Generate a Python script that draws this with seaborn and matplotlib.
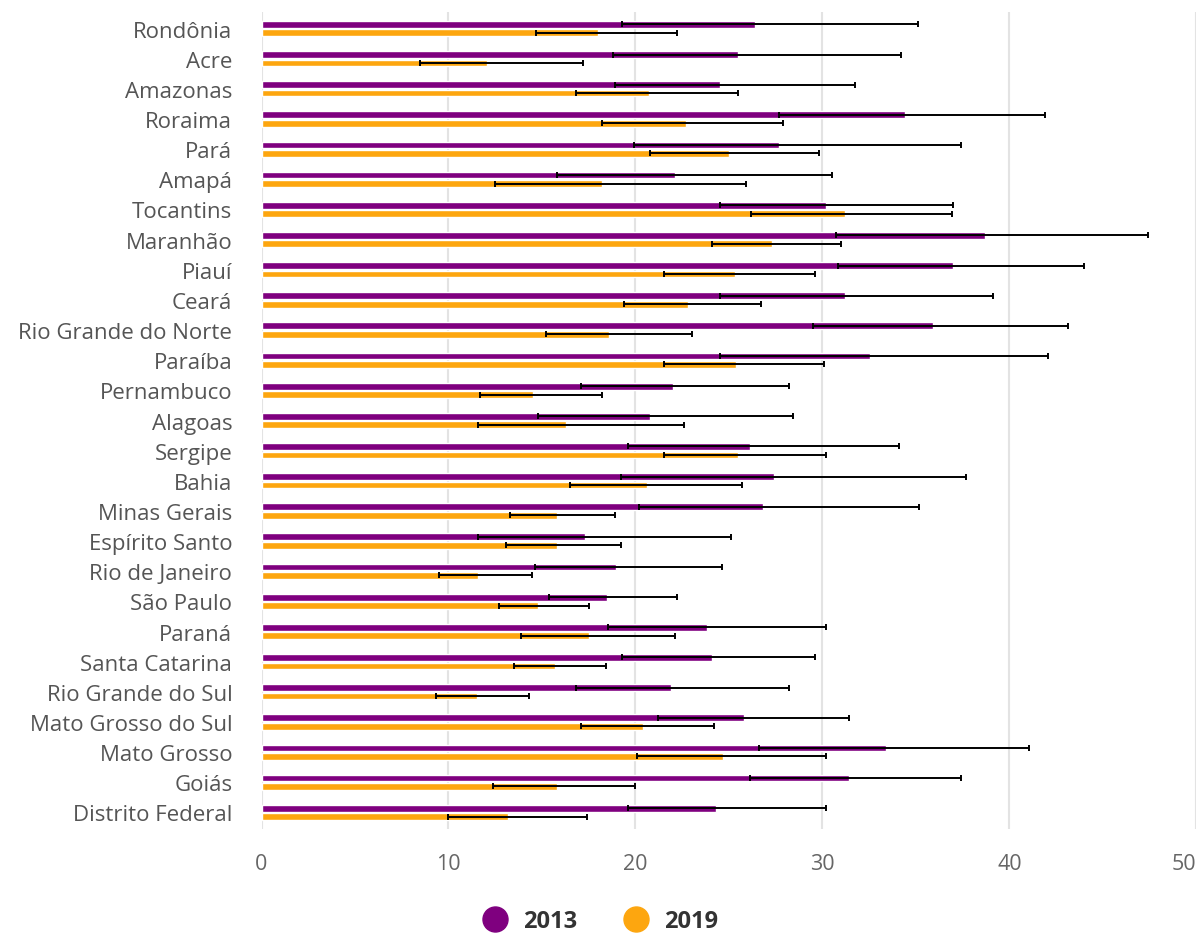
import numpy as np
import pandas as pd
import matplotlib
matplotlib.use("Agg")
import matplotlib.pyplot as plt
from matplotlib.lines import Line2D
import seaborn as sns

states = [
    "Rondônia", "Acre", "Amazonas", "Roraima", "Pará", "Amapá", "Tocantins",
    "Maranhão", "Piauí", "Ceará", "Rio Grande do Norte", "Paraíba", "Pernambuco",
    "Alagoas", "Sergipe", "Bahia", "Minas Gerais", "Espírito Santo",
    "Rio de Janeiro", "São Paulo", "Paraná", "Santa Catarina",
    "Rio Grande do Sul", "Mato Grosso do Sul", "Mato Grosso", "Goiás",
    "Distrito Federal",
]

v2013 = [26.4, 25.5, 24.5, 34.4, 27.7, 22.1, 30.2, 38.7, 37.0, 31.2, 35.9, 32.55,
         22.0, 20.8, 26.1, 27.4, 26.8, 17.3, 18.95, 18.5, 23.8, 24.1, 21.9, 25.8,
         33.4, 31.4, 24.3]
lo2013 = [19.3, 18.8, 18.9, 27.7, 19.9, 15.8, 24.5, 30.7, 30.85, 24.5, 29.5, 24.5,
          17.1, 14.8, 19.6, 19.2, 20.2, 11.6, 14.6, 15.35, 18.55, 19.3, 16.8, 21.2,
          26.6, 26.1, 19.6]
hi2013 = [35.1, 34.2, 31.75, 41.9, 37.4, 30.5, 37.0, 47.4, 44.0, 39.1, 43.15, 42.05,
          28.2, 28.4, 34.1, 37.7, 35.15, 25.1, 24.6, 22.2, 30.2, 29.6, 28.2, 31.4,
          41.05, 37.4, 30.2]

v2019 = [18.0, 12.05, 20.7, 22.7, 25.0, 18.2, 31.2, 27.3, 25.3, 22.8, 18.6, 25.4,
         14.5, 16.3, 25.5, 20.6, 15.8, 15.8, 11.6, 14.8, 17.5, 15.7, 11.5, 20.4,
         24.7, 15.8, 13.2]
lo2019 = [14.7, 8.5, 16.8, 18.2, 20.8, 12.5, 26.2, 24.1, 21.5, 19.4, 15.2, 21.5,
          11.7, 11.6, 21.5, 16.5, 13.3, 13.1, 9.5, 12.7, 13.9, 13.5, 9.35, 17.1,
          20.1, 12.4, 10.0]
hi2019 = [22.2, 17.2, 25.5, 27.9, 29.8, 25.9, 36.9, 31.0, 29.6, 26.7, 23.0, 30.1,
          18.2, 22.6, 30.2, 25.7, 18.9, 19.2, 14.45, 17.5, 22.1, 18.4, 14.3, 24.2,
          30.2, 20.0, 17.4]

years = ["2013", "2019"]
colors = ["#7f007f", "#fda60f"]
xticks = [0, 10, 20, 30, 40, 50]

df = pd.DataFrame({
    "state": states * 2,
    "value": v2013 + v2019,
    "year": [years[0]] * len(states) + [years[1]] * len(states),
})

sns.set_style("white")
plt.rcParams["font.family"] = ["Open Sans", "DejaVu Sans"]

fig = plt.figure(figsize=(11.99, 9.37), dpi=100)
ax = fig.add_axes([0.2181, 0.1142, 0.7798, 0.8719])

sns.barplot(data=df, y="state", x="value", hue="year", order=states,
            hue_order=years, palette=colors, orient="h", width=0.56, gap=0.2,
            errorbar=None, legend=False, saturation=1, ax=ax)

# asymmetric confidence intervals for each series
intervals = [(v2013, lo2013, hi2013), (v2019, lo2019, hi2019)]
for container, (vals, lows, highs) in zip(ax.containers, intervals):
    ys = [b.get_y() + b.get_height() / 2 for b in container]
    vals = np.asarray(vals)
    err = [vals - np.asarray(lows), np.asarray(highs) - vals]
    ax.errorbar(vals, ys, xerr=err, fmt="none", ecolor="black",
                elinewidth=1.4, capsize=2.2, capthick=1.4, zorder=5)

ax.set_xlim(0, 50)
ax.set_ylim(len(states) - 0.45, -0.55)
ax.set_xticks(xticks)
ax.set_xticklabels([str(t) for t in xticks])
ax.get_xticklabels()[-1].set_horizontalalignment("right")
ax.xaxis.grid(True, color="#e3e3e3", linewidth=1.5)
ax.set_axisbelow(True)
for s in ax.spines.values():
    s.set_visible(False)
ax.set_xlabel("")
ax.set_ylabel("")
ax.tick_params(axis="y", length=0, pad=21, labelsize=16, labelcolor="#555555")
ax.tick_params(axis="x", length=0, pad=17, labelsize=15.5, labelcolor="#666666")

handles = [Line2D([], [], marker="o", linestyle="", markersize=18,
                  markerfacecolor=c, markeredgecolor=c) for c in colors]
fig.legend(handles, years, loc="center", bbox_to_anchor=(0.496, 0.016),
           ncol=2, frameon=False, handletextpad=0.2, columnspacing=1.5,
           prop={"size": 17, "weight": "bold"}, labelcolor="#333333")

fig.savefig("out.png", dpi=100)
